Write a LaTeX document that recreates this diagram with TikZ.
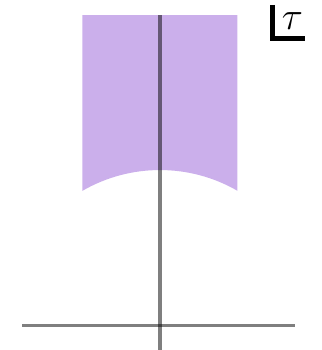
\documentclass[tikz,border=0pt]{standalone}
\usepackage{tikz}
\definecolor{domainfill}{RGB}{203,175,235}

\begin{document}
\begin{tikzpicture}[x=2cm, y=2cm]
  \useasboundingbox (-1.032,-0.161) rectangle (1.045,2.097);

  % Fundamental domain
  \fill[domainfill] (-0.5,2) -- (-0.5,{sqrt(3)/2})
    arc[start angle=120, end angle=60, radius=1] -- (0.5,2) -- cycle;

  % Axes
  \draw[line width=1.8pt, black, opacity=0.5] (0,-0.161) -- (0,2);
  \draw[line width=1.1pt, black, opacity=0.5] (-0.89,0) -- (0.87,0);

  % Variable label
  \node[font=\Large] (tau) at (0.855,1.96) {$\tau$};
  \coordinate (ltop) at (0.727,2.065);
  \coordinate (lcorner) at (0.727,1.85);
  \coordinate (lright) at (0.935,1.85);
  \draw[line width=1.8pt] (ltop) -- (lcorner) -- (lright);
\end{tikzpicture}
\end{document}
